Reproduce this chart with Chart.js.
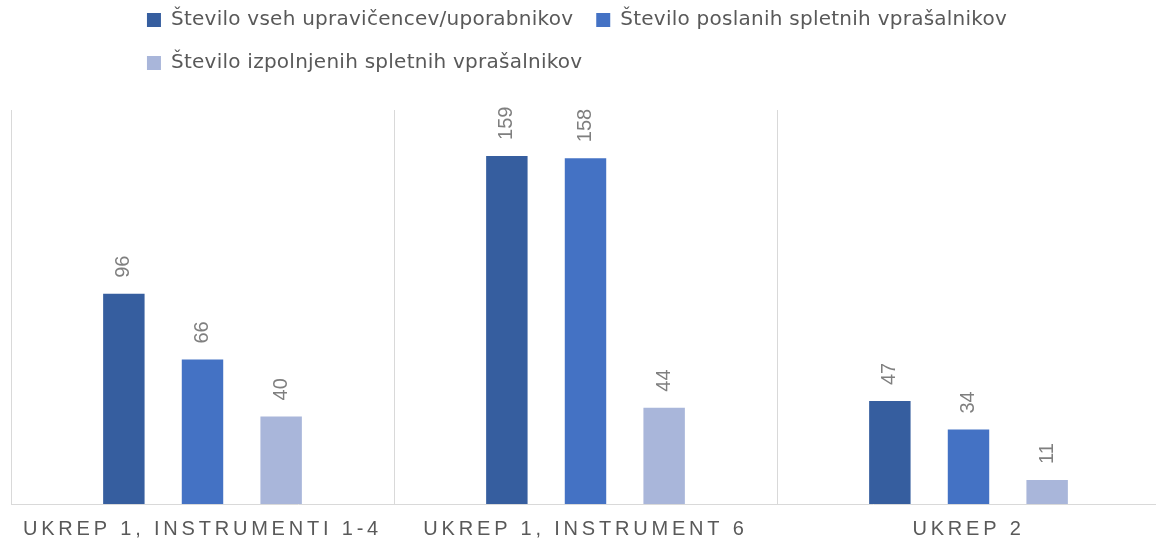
<!DOCTYPE html>
<html lang="sl">
<head>
<meta charset="utf-8">
<script src="https://cdn.jsdelivr.net/npm/chart.js@4.4.1/dist/chart.umd.min.js"></script>
<style>
  html, body { margin: 0; padding: 0; background: #fff; overflow: hidden; }
  #okvir { width: 1160px; height: 539px; position: relative; }
</style>
</head>
<body>
<div id="okvir"><canvas id="graf"></canvas></div>
<script>
// Podatki
const kategorije = ['UKREP 1, INSTRUMENTI 1-4', 'UKREP 1, INSTRUMENT 6', 'UKREP 2'];
const imenaSerij = [
  'Število vseh upravičencev/uporabnikov',
  'Število poslanih spletnih vprašalnikov',
  'Število izpolnjenih spletnih vprašalnikov'
];
const upraviceni = [96, 159, 47];
const poslani = [66, 158, 34];
const izpolnjeni = [40, 44, 11];

const barve = ['#365E9F', '#4472C4', '#A9B6DA'];
const SREDINA_LEGENDE = 577;

// Legenda: prva vrsta na sredini, druga poravnana levo pod njo
const legendaPostavitev = {
  id: 'legendaPostavitev',
  beforeInit(chart) {
    const legenda = chart.legend;
    const fit = legenda.fit;
    legenda.fit = function () {
      this.ctx.save();
      this.ctx.letterSpacing = '0.25px';
      fit.call(this);
      this.ctx.restore();
      this.height += 14;
    };
    const draw = legenda.draw;
    legenda.draw = function () {
      const pad = this.options.labels.padding;
      const sirinaVrste = this.lineWidths[0] - pad;
      this.left = SREDINA_LEGENDE - sirinaVrste / 2 - pad;
      this.top = -13;
      this.ctx.save();
      this.ctx.letterSpacing = '0.25px';
      draw.call(this);
      this.ctx.restore();
    };
  }
};

// Razmik med črkami pri oznakah kategorij
const razmikOznak = {
  id: 'razmikOznak',
  beforeDraw(chart) {
    const os = chart.scales.x;
    if (os._razmik) return;
    const izvirno = os.drawLabels;
    os.drawLabels = function (area) {
      this.ctx.save();
      this.ctx.letterSpacing = '3.8px';
      izvirno.call(this, area);
      this.ctx.restore();
    };
    os._razmik = true;
  }
};

// Navpične oznake vrednosti nad stolpci
const oznakeVrednosti = {
  id: 'oznakeVrednosti',
  afterDatasetsDraw(chart) {
    const ctx = chart.ctx;
    ctx.save();
    ctx.font = '20px "Liberation Sans", Arial, sans-serif';
    ctx.fillStyle = '#7F7F7F';
    ctx.textAlign = 'left';
    ctx.textBaseline = 'middle';
    chart.data.datasets.forEach((ds, i) => {
      chart.getDatasetMeta(i).data.forEach((stolpec, j) => {
        ctx.save();
        ctx.translate(stolpec.x, stolpec.y - 16);
        ctx.rotate(-Math.PI / 2);
        ctx.fillText(String(ds.data[j]), 0, 0);
        ctx.restore();
      });
    });
    ctx.restore();
  }
};

const serije = [upraviceni, poslani, izpolnjeni].map((vrednosti, i) => ({
  label: imenaSerij[i],
  data: vrednosti,
  backgroundColor: barve[i],
  borderWidth: 0,
  categoryPercentage: 0.616,
  barPercentage: 0.527
}));

new Chart(document.getElementById('graf'), {
  type: 'bar',
  data: { labels: kategorije, datasets: serije },
  options: {
    responsive: true,
    maintainAspectRatio: false,
    animation: false,
    layout: { padding: { left: 11, right: 0, top: 0, bottom: -15 } },
    plugins: {
      tooltip: { enabled: false },
      legend: {
        position: 'top',
        align: 'start',
        labels: {
          boxWidth: 14,
          boxHeight: 14,
          padding: 23,
          color: '#595959',
          font: { family: '"DejaVu Sans", sans-serif', size: 20 }
        }
      }
    },
    scales: {
      x: {
        grid: { offset: true, color: '#D9D9D9', drawTicks: false },
        border: { color: '#D9D9D9' },
        ticks: {
          color: '#595959',
          padding: 16,
          maxRotation: 0,
          autoSkip: false,
          font: { family: '"Liberation Sans", Arial, sans-serif', size: 20, lineHeight: 0.9 }
        }
      },
      y: { display: false, min: 0, max: 180 }
    }
  },
  plugins: [legendaPostavitev, razmikOznak, oznakeVrednosti]
});
</script>
</body>
</html>
